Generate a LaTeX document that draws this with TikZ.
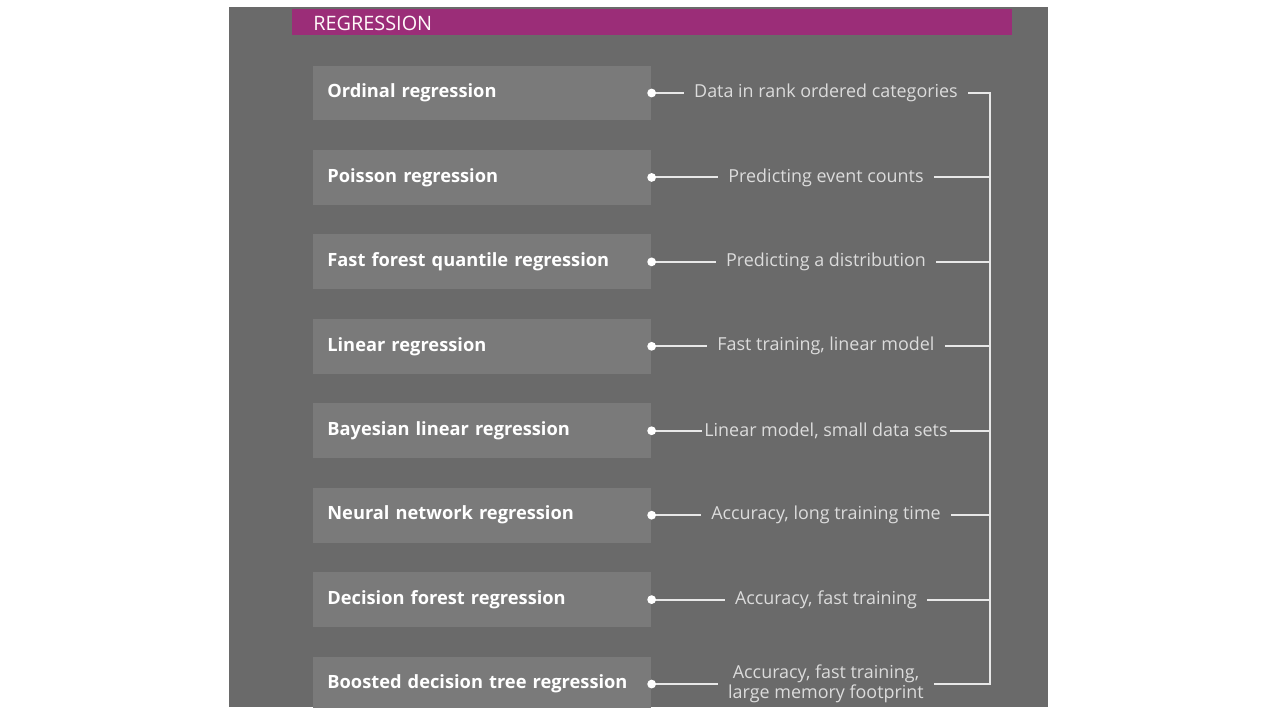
\documentclass[tikz,border=0pt]{standalone}
\usepackage{fontspec}
\setmainfont{Open Sans}
\usepackage{tikz}
\usetikzlibrary{positioning}

\definecolor{panelgray}{HTML}{6A6A6A}
\definecolor{boxgray}{HTML}{7A7A7A}
\definecolor{headmagenta}{HTML}{9B2D78}
\definecolor{desctext}{HTML}{DCDCDC}
\definecolor{linkline}{HTML}{E8E8E8}

\tikzset{
  method/.style={fill=boxgray, text=white, font=\fontsize{10.4}{12}\selectfont\bfseries,
    minimum height=1.1cm, text width=6.2cm, inner xsep=0.28cm, align=left},
  desc/.style={text=desctext, font=\fontsize{10.2}{11.5}\selectfont, inner xsep=0.2cm,
    inner ysep=0pt, align=center},
  link/.style={draw=linkline, line width=1.1pt},
  knob/.style={circle, fill=white, inner sep=0pt, minimum size=5pt}
}

\begin{document}
\begin{tikzpicture}[x=0.02cm, y=-0.02cm]
  \useasboundingbox[fill=white] (0,0) rectangle (1278,720);
  \fill[panelgray] (229,7) rectangle (1048,707);
  \fill[headmagenta] (292,9) rectangle (1012,35);
  \node[anchor=west, text=white!90!pink, font=\fontsize{11.3}{13}\selectfont, inner sep=0pt]
    (head) at (313,23) {REGRESSION};

  \coordinate (mid) at (826,0);
  \coordinate (rail) at (990,0);

  \begin{scope}
    \clip (229,7) rectangle (1048,707);
    \node[method, anchor=west] (m1) at (313,93) {Ordinal regression};
    \node[method, below=0.575cm of m1] (m2) {Poisson regression};
    \node[method, below=0.575cm of m2] (m3) {Fast forest quantile regression};
    \node[method, below=0.575cm of m3] (m4) {Linear regression};
    \node[method, below=0.575cm of m4] (m5) {Bayesian linear regression};
    \node[method, below=0.575cm of m5] (m6) {Neural network regression};
    \node[method, below=0.575cm of m6] (m7) {Decision forest regression};
    \node[method, below=0.575cm of m7] (m8) {Boosted decision tree regression};
  \end{scope}

  % descriptions
  \node[desc] (d1) at (m1.east -| mid) {Data in rank ordered categories};
  \node[desc] (d2) at (m2.east -| mid) {Predicting event counts};
  \node[desc] (d3) at (m3.east -| mid) {Predicting a distribution};
  \node[desc] (d4) at (m4.east -| mid) {Fast training, linear model};
  \node[desc, inner xsep=1pt] (d5) at (m5.east -| mid) {Linear model, small data sets};
  \node[desc] (d6) at (m6.east -| mid) {Accuracy, long training time};
  \node[desc] (d7) at (m7.east -| mid) {Accuracy, fast training};
  \node[desc] (d8) at (m8.east -| mid) {Accuracy, fast training,\\large memory footprint};

  \coordinate (r1) at (m1.east -| rail);
  \coordinate (r8) at (m8.east -| rail);

  % connectors
  \draw[link] (m1.east) -- (d1.west);
  \draw[link] (m2.east) -- (d2.west);
  \draw[link] (m3.east) -- (d3.west);
  \draw[link] (m4.east) -- (d4.west);
  \draw[link] (m5.east) -- (d5.west);
  \draw[link] (m6.east) -- (d6.west);
  \draw[link] (m7.east) -- (d7.west);
  \draw[link] (m8.east) -- (d8.west);

  \draw[link] (d1.east) -- (r1) -- (r8) -- (d8.east);
  \draw[link] (d2.east) -- (d2.east -| rail);
  \draw[link] (d3.east) -- (d3.east -| rail);
  \draw[link] (d4.east) -- (d4.east -| rail);
  \draw[link] (d5.east) -- (d5.east -| rail);
  \draw[link] (d6.east) -- (d6.east -| rail);
  \draw[link] (d7.east) -- (d7.east -| rail);

  \foreach \m in {m1,m2,m3,m4,m5,m6,m7,m8}
    \node[knob] at (\m.east) {};
\end{tikzpicture}
\end{document}
